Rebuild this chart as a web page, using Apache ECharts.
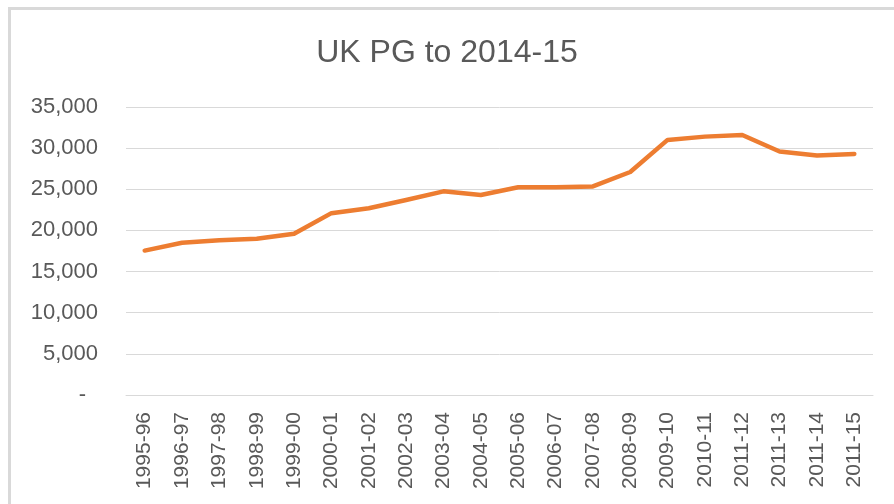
<!DOCTYPE html>
<html>
<head>
<meta charset="utf-8">
<script src="https://cdn.jsdelivr.net/npm/echarts@6/dist/echarts.min.js"></script>
<style>html,body{margin:0;padding:0;background:#fff}#c{width:894px;height:504px}</style>
</head>
<body>
<div id="c"></div>
<script>
var titleText = 'UK PG to 2014-15';
var categories = ['1995-96','1996-97','1997-98','1998-99','1999-00','2000-01','2001-02','2002-03','2003-04','2004-05','2005-06','2006-07','2007-08','2008-09','2009-10','2010-11','2011-12','2011-13','2011-14','2011-15'];
var values = [17550,18500,18800,19000,19600,22100,22700,23700,24750,24300,25250,25250,25350,27100,31000,31400,31600,29600,29100,29300];
var yTicks = {min: 0, max: 35000, interval: 5000};

var chart = echarts.init(document.getElementById('c'), null, {renderer: 'canvas'});
var font = 'Liberation Sans, Arial, sans-serif';
chart.setOption({
  animation: false,
  backgroundColor: '#ffffff',
  title: {
    text: titleText, left: 'center', top: 32,
    textStyle: {fontFamily: font, fontSize: 32, fontWeight: 'normal', color: '#595959'}
  },
  graphic: [
    {type: 'line', shape: {x1: 9.5, y1: 8.5, x2: 9.5, y2: 504}, style: {stroke: '#d9d9d9', lineWidth: 3}, silent: true},
    {type: 'line', shape: {x1: 8, y1: 8.5, x2: 894, y2: 8.5}, style: {stroke: '#d9d9d9', lineWidth: 3}, silent: true}
  ],
  grid: {left: 126, right: 21, top: 107, bottom: 109, containLabel: false},
  xAxis: {
    type: 'category', data: categories, boundaryGap: true,
    axisTick: {show: false},
    axisLine: {lineStyle: {color: '#d9d9d9', width: 1}},
    axisLabel: {rotate: 90, margin: 17, fontFamily: font, fontSize: 21, color: '#595959', interval: 0}
  },
  yAxis: {
    type: 'value', min: yTicks.min, max: yTicks.max, interval: yTicks.interval,
    axisLine: {show: false}, axisTick: {show: false},
    splitLine: {lineStyle: {color: '#d9d9d9', width: 1}},
    axisLabel: {
      margin: 28, fontFamily: font, fontSize: 22, color: '#595959',
      formatter: function (v) {
        if (v === 0) return '{d|-}';
        return v.toString().replace(/\B(?=(\d{3})+(?!\d))/g, ',');
      },
      rich: {d: {fontFamily: font, fontSize: 22, color: '#595959', padding: [0, 12, 0, 0]}}
    }
  },
  series: [{
    type: 'line', data: values, showSymbol: false, smooth: false,
    lineStyle: {color: '#ED7D31', width: 4.5, cap: 'round', join: 'round'},
    itemStyle: {color: '#ED7D31'}
  }]
});
</script>
</body>
</html>
